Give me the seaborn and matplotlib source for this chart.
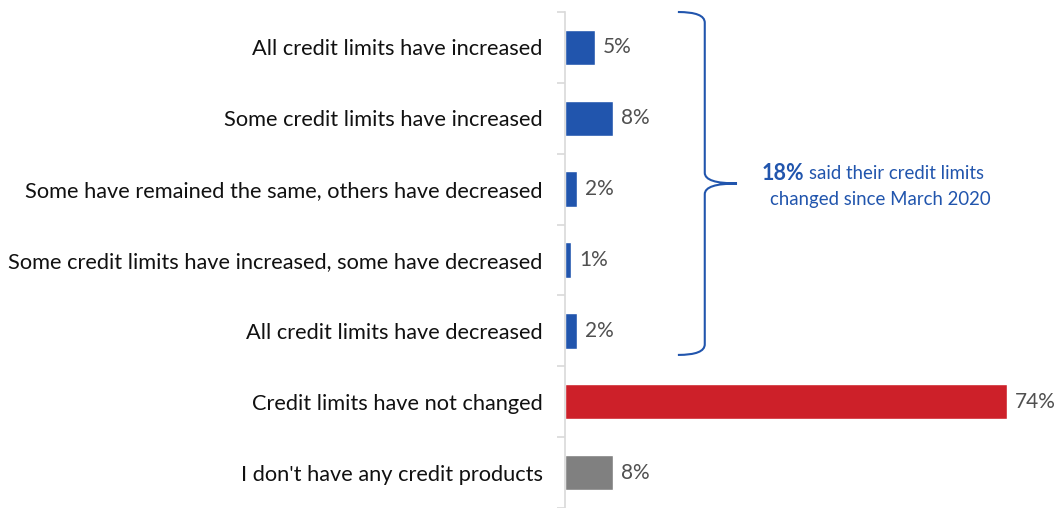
import numpy as np
import pandas as pd
import matplotlib
matplotlib.use('Agg')
import matplotlib.pyplot as plt
from matplotlib.path import Path
from matplotlib.patches import PathPatch
import seaborn as sns

categories = [
    'All credit limits have increased',
    'Some credit limits have increased',
    'Some have remained the same, others have decreased',
    'Some credit limits have increased, some have decreased',
    'All credit limits have decreased',
    'Credit limits have not changed',
    "I don't have any credit products",
]
values = [5, 8, 2, 1, 2, 74, 8]
bar_colors = ['#2155AD', '#2155AD', '#2155AD', '#2155AD', '#2155AD', '#CD2029', '#808080']
note_bold = '18%'
note_rest = 'said their credit limits'
note_line2 = 'changed since March 2020'

sns.set_style('white')
plt.rcParams['font.family'] = ['Lato', 'DejaVu Sans']

df = pd.DataFrame({'category': categories, 'value': values})

fig = plt.figure(figsize=(10.6, 5.08), dpi=100)
ax = fig.add_axes([565 / 1060, 0.0, (1007 - 565) / 1060, 1 - 12 / 508])
sns.barplot(data=df, x='value', y='category', hue='category', palette=bar_colors,
            legend=False, orient='h', width=0.5, ax=ax, saturation=1)

ax.set_xlim(0, 74)
ax.set_ylim(6.5, -0.5)
ax.set_xlabel('')
ax.set_ylabel('')
ax.set_xticks([])
for side in ['top', 'right', 'bottom']:
    ax.spines[side].set_visible(False)
ax.spines['left'].set_color('#D9D9D9')
ax.spines['left'].set_linewidth(1.2)

ax.set_yticks(range(len(categories)))
ax.set_yticklabels(categories, fontsize=15.7, color='#111111')
ax.tick_params(axis='y', which='major', length=0, pad=16, left=True)
ax.set_yticks(np.arange(-0.5, 7, 1), minor=True)
ax.tick_params(axis='y', which='minor', length=6, color='#D9D9D9', width=1.2, left=True)

for i, v in enumerate(values):
    ax.text(v + 1.4, i, f'{v}%', va='center', ha='left', fontsize=15,
            color='#505050', clip_on=False)

# brace around the first five bars
x0, xv, xt = 18.9, 23.4, 28.8
ytop, ymid, ybot = -0.5, 1.92, 4.34
r = 0.15
verts = [(x0, ytop), (xv, ytop), (xv, ytop + r),
         (xv, ymid - r), (xv, ymid), (xt, ymid),
         (xv, ymid), (xv, ymid + r),
         (xv, ybot - r), (xv, ybot), (x0, ybot)]
codes = [Path.MOVETO, Path.CURVE3, Path.CURVE3,
         Path.LINETO, Path.CURVE3, Path.CURVE3,
         Path.CURVE3, Path.CURVE3,
         Path.LINETO, Path.CURVE3, Path.CURVE3]
ax.add_patch(PathPatch(Path(verts, codes), facecolor='none', edgecolor='#2155AD',
                       linewidth=1.5, clip_on=False))

fig.text(762 / 1060, 1 - 173 / 508, note_bold, fontsize=15.5, fontweight='bold',
         color='#2155AD', va='center', ha='left')
fig.text(809 / 1060, 1 - 173 / 508, note_rest, fontsize=13.4, color='#2155AD',
         va='center', ha='left')
fig.text(880 / 1060, 1 - 200 / 508, note_line2, fontsize=13.4, color='#2155AD',
         va='center', ha='center')

fig.savefig('out.png', dpi=100)
